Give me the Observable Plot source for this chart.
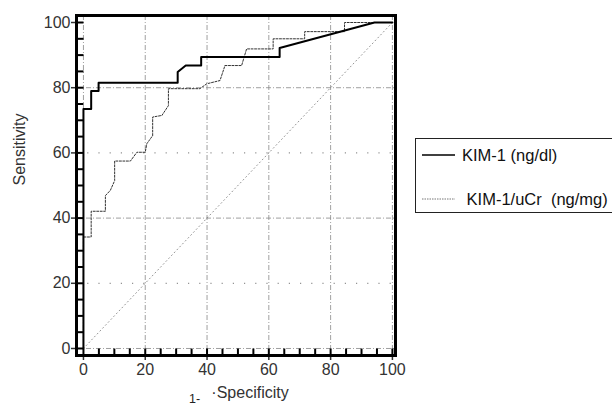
<!DOCTYPE html>
<html><head><meta charset="utf-8">
<script src="https://cdn.jsdelivr.net/npm/d3@7"></script>
<script src="https://cdn.jsdelivr.net/npm/@observablehq/plot@0.6"></script>
<style>
html,body{margin:0;padding:0;background:#fff;}
body{width:612px;height:407px;overflow:hidden;position:relative;font-family:"Liberation Sans",Arial,sans-serif;}
#legend{position:absolute;left:415px;top:138px;width:215px;height:75px;border:1.5px solid #222;box-sizing:border-box;background:#fff;}
.item{position:absolute;left:6px;height:20px;display:flex;align-items:center;white-space:pre;font-size:16.5px;color:#111;}
.item svg{margin-right:7px;}
</style></head><body>
<div id="chart"></div>
<div id="legend"></div>
<script>
// Series names
const seriesNames = ["KIM-1 (ng/dl)", "KIM-1/uCr  (ng/mg)"];
// KIM-1 (ng/dl) ROC curve: 1-specificity, sensitivity
const kimX = [0, 0, 2.5, 2.5, 4.9, 4.9, 30.5, 30.5, 33.1, 38.1, 38.1, 63.5, 63.5, 94.2, 100];
const kimY = [0, 73.5, 73.5, 79, 79, 81.5, 81.5, 84.8, 86.8, 86.8, 89.4, 89.4, 92.2, 100, 100];
// KIM-1/uCr (ng/mg) ROC curve
const ucrX = [0, 0, 2.5, 2.5, 7.1, 7.1, 8.7, 10.1, 10.1, 15.2, 17.3, 20, 20.5, 22.4, 22.4, 25.4, 27.5, 27.5, 37.7, 39.9, 44.2, 45.8, 51.2, 52.8, 61.4, 61.4, 71.6, 71.6, 84.5, 84.5, 100];
const ucrY = [0, 34.2, 34.2, 42.1, 42.1, 46.9, 48.5, 51.5, 57.5, 57.5, 60.2, 60.2, 62.8, 65.3, 71, 71.5, 74.5, 79.7, 79.7, 81.2, 82.2, 86.8, 86.8, 91.9, 91.9, 95, 95, 97.2, 97.2, 100, 100];
// Reference diagonal
const diagX = [0, 100];
const diagY = [0, 100];
// Ticks
const xTicks = [0, 20, 40, 60, 80, 100];
const yTicks = [0, 20, 40, 60, 80, 100];
const minorTicks = [0, 5, 10, 15, 20, 25, 30, 35, 40, 45, 50, 55, 60, 65, 70, 75, 80, 85, 90, 95, 100];
const denseGrid = [0, 40, 80];
const sparseGrid = [20, 60];

const kim = kimX.map((x, i) => ({x, y: kimY[i]}));
const ucr = ucrX.map((x, i) => ({x, y: ucrY[i]}));
const diag = diagX.map((x, i) => ({x, y: diagY[i]}));

const W = 612, H = 407, ML = 76, MR = 217, MT = 15, MB = 52;
const frameW = W - ML - MR, frameH = H - MT - MB, minorLen = 7;
const xDom = [-2.25, 101], yDom = [-2.15, 102.15];
// inward minor tick length expressed in data units of each scale
const xTickUnits = minorLen * (xDom[1] - xDom[0]) / frameW;
const yTickUnits = minorLen * (yDom[1] - yDom[0]) / frameH;
const xMinor = minorTicks.map(v => ({v, a: yDom[0], b: yDom[0] + yTickUnits}));
const yMinor = minorTicks.map(v => ({v, a: xDom[0], b: xDom[0] + xTickUnits}));

const chart = Plot.plot({
  width: W, height: H,
  marginLeft: ML, marginRight: MR, marginTop: MT, marginBottom: MB,
  x: {domain: xDom},
  y: {domain: yDom},
  style: {fontFamily: '"Liberation Sans", Arial, sans-serif', fontSize: "16px", color: "#333", background: "#fff"},
  marks: [
    Plot.ruleX(xTicks, {stroke: "#888", strokeWidth: 0.8, strokeDasharray: "5,2,1,2"}),
    Plot.ruleY(denseGrid, {stroke: "#888", strokeWidth: 0.8, strokeDasharray: "5,2,1,2"}),
    Plot.ruleY(sparseGrid, {stroke: "#777", strokeWidth: 1, strokeDasharray: "1.2,10"}),
    Plot.line(diag, {x: "x", y: "y", stroke: "#888", strokeWidth: 0.9, strokeDasharray: "1,3"}),
    Plot.line(ucr, {x: "x", y: "y", stroke: "#333", strokeWidth: 1, strokeDasharray: "2,1.5"}),
    Plot.line(kim, {x: "x", y: "y", stroke: "#000", strokeWidth: 2}),
    // inward minor ticks
    Plot.link(xMinor, {x1: "v", x2: "v", y1: "a", y2: "b", stroke: "#000", strokeWidth: 2}),
    Plot.link(yMinor, {y1: "v", y2: "v", x1: "a", x2: "b", stroke: "#000", strokeWidth: 2}),
    Plot.axisX(xTicks, {tickSize: 5, tickPadding: 3, label: null, fontSize: 16, strokeWidth: 1.5}),
    Plot.axisY(yTicks, {tickSize: 5, tickPadding: 1, label: null, fontSize: 16, strokeWidth: 1.5}),
    Plot.frame({stroke: "#000", strokeWidth: 3}),
    Plot.text(["Sensitivity"], {frameAnchor: "left", dx: -56.5, rotate: -90, fontSize: 16, fill: "#333"}),
    Plot.text(["·Specificity"], {frameAnchor: "bottom", dx: 14, dy: 42, fontSize: 16, fill: "#333"}),
    Plot.text(["1-"], {frameAnchor: "bottom", dx: -41.5, dy: 47, fontSize: 12.5, fill: "#222"})
  ]
});
document.getElementById("chart").appendChild(chart);

// Legend
const legend = document.getElementById("legend");
const styles = [{dash: null, color: "#000", w: 1.6, top: 6}, {dash: "1.5,1", color: "#666", w: 0.9, top: 50}];
seriesNames.forEach((name, i) => {
  const s = styles[i];
  const div = document.createElement("div");
  div.className = "item";
  div.style.top = s.top + "px";
  div.innerHTML = `<svg width="33" height="6"><line x1="0" y1="3" x2="33" y2="3" stroke="${s.color}" stroke-width="${s.w}" ${s.dash ? `stroke-dasharray="${s.dash}"` : ""}/></svg>${i === 1 ? " " : ""}${name}`;
  legend.appendChild(div);
});
</script>
</body></html>
